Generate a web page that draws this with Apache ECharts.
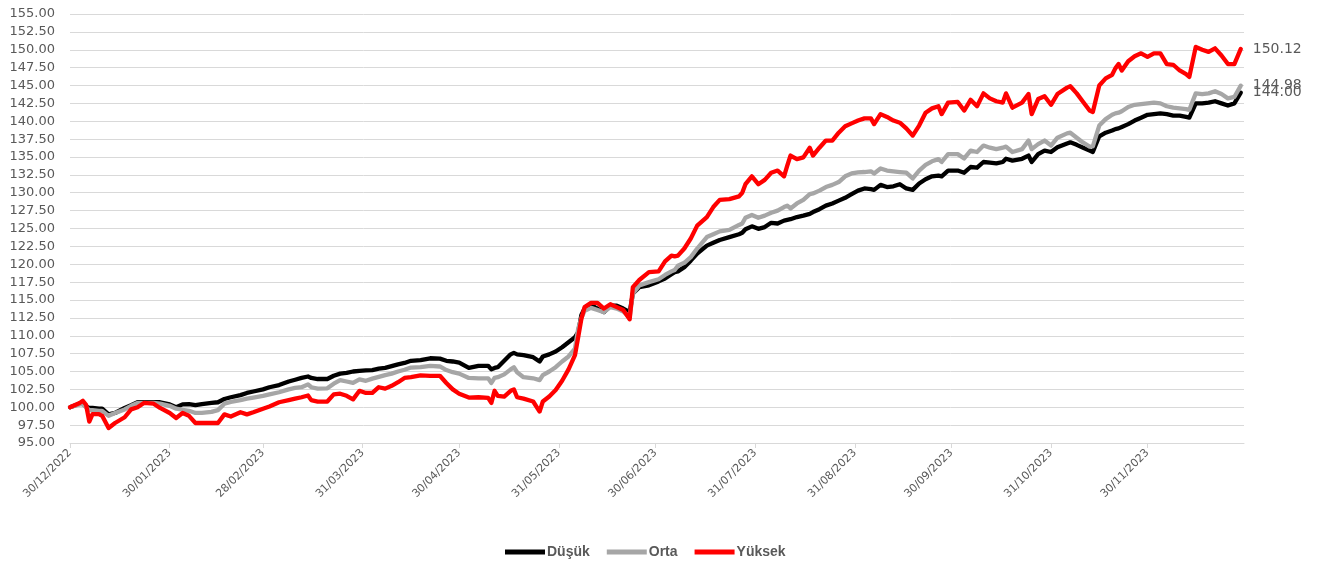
<!DOCTYPE html>
<html>
<head>
<meta charset="utf-8">
<script src="https://cdn.jsdelivr.net/npm/echarts@6/dist/echarts.min.js"></script>
<style>
html,body{margin:0;padding:0;background:#fff;}
#c{width:1332px;height:567px;}
</style>
</head>
<body>
<div id="c"></div>
<script>
const startDate = '2022-12-30';
const endDate = '2023-12-30';
const labelDates = ['2022-12-30','2023-01-30','2023-02-28','2023-03-31','2023-04-30','2023-05-31','2023-06-30','2023-07-31','2023-08-31','2023-09-30','2023-10-31','2023-11-30'];
const seriesNames = ['Düşük','Orta','Yüksek'];

const dates = [
'2022-12-30','2023-01-02','2023-01-03','2023-01-04','2023-01-05','2023-01-06','2023-01-08','2023-01-09','2023-01-11','2023-01-13','2023-01-16','2023-01-18','2023-01-20','2023-01-22','2023-01-25','2023-01-27','2023-01-30',
'2023-02-01','2023-02-03','2023-02-05','2023-02-07','2023-02-09','2023-02-12','2023-02-14','2023-02-16','2023-02-18','2023-02-21','2023-02-23','2023-02-25','2023-02-28',
'2023-03-02','2023-03-05','2023-03-08','2023-03-10','2023-03-12','2023-03-14','2023-03-15','2023-03-17','2023-03-20','2023-03-22','2023-03-24','2023-03-26','2023-03-28','2023-03-30',
'2023-04-01','2023-04-03','2023-04-05','2023-04-07','2023-04-09','2023-04-11','2023-04-13','2023-04-15','2023-04-18','2023-04-21','2023-04-24','2023-04-26','2023-04-28','2023-04-30',
'2023-05-03','2023-05-06','2023-05-09','2023-05-10','2023-05-11','2023-05-12','2023-05-14','2023-05-16','2023-05-17','2023-05-18','2023-05-20','2023-05-23','2023-05-25','2023-05-26','2023-05-28','2023-05-30',
'2023-06-01','2023-06-03','2023-06-05','2023-06-06','2023-06-07','2023-06-08','2023-06-10','2023-06-12','2023-06-14','2023-06-16','2023-06-18','2023-06-20','2023-06-22','2023-06-23','2023-06-25','2023-06-28',
'2023-07-01','2023-07-03','2023-07-05','2023-07-06','2023-07-07','2023-07-09','2023-07-11','2023-07-13','2023-07-16','2023-07-18','2023-07-20','2023-07-23','2023-07-26','2023-07-27','2023-07-28','2023-07-30',
'2023-08-01','2023-08-03','2023-08-05','2023-08-07','2023-08-09','2023-08-10','2023-08-11','2023-08-13','2023-08-15','2023-08-17','2023-08-18','2023-08-20','2023-08-22','2023-08-24','2023-08-26','2023-08-28','2023-08-30',
'2023-09-01','2023-09-03','2023-09-05','2023-09-06','2023-09-08','2023-09-10','2023-09-12','2023-09-14','2023-09-16','2023-09-18','2023-09-20','2023-09-22','2023-09-24','2023-09-26','2023-09-27','2023-09-29',
'2023-10-02','2023-10-04','2023-10-06','2023-10-08','2023-10-10','2023-10-12','2023-10-14','2023-10-16','2023-10-17','2023-10-19','2023-10-22','2023-10-24','2023-10-25','2023-10-27','2023-10-29','2023-10-31',
'2023-11-02','2023-11-05','2023-11-06','2023-11-08','2023-11-10','2023-11-12','2023-11-13','2023-11-15','2023-11-17','2023-11-19','2023-11-20','2023-11-21','2023-11-22','2023-11-24','2023-11-26','2023-11-28','2023-11-30',
'2023-12-02','2023-12-04','2023-12-06','2023-12-08','2023-12-10','2023-12-12','2023-12-13','2023-12-15','2023-12-17','2023-12-19','2023-12-21','2023-12-23','2023-12-25','2023-12-27','2023-12-29'
];

const dusuk = [
100.0,100.5,100.5,100.1,99.9,99.9,99.8,99.8,99.0,99.2,99.9,100.3,100.7,100.7,100.7,100.7,100.4,
100.0,100.4,100.45,100.3,100.45,100.6,100.7,101.15,101.4,101.7,102.0,102.2,102.5,
102.8,103.1,103.6,103.85,104.1,104.3,104.1,103.95,103.95,104.4,104.7,104.8,105.0,105.1,
105.15,105.2,105.4,105.5,105.75,106.0,106.2,106.5,106.6,106.85,106.8,106.5,106.4,106.25,
105.5,105.8,105.8,105.3,105.5,105.6,106.5,107.4,107.6,107.4,107.3,107.0,106.4,107.1,107.4,107.8,
108.4,109.1,109.8,110.5,112.9,113.8,114.3,113.8,113.3,114.2,114.2,113.8,113.3,115.9,116.8,117.05,
117.6,118.0,118.6,118.9,119.0,119.6,120.5,121.5,122.6,123.0,123.4,123.8,124.2,124.4,124.9,125.3,
124.95,125.2,125.8,125.7,126.1,126.2,126.3,126.6,126.8,127.05,127.3,127.7,128.2,128.5,128.9,129.3,129.8,
130.3,130.6,130.5,130.4,131.1,130.8,130.9,131.2,130.6,130.4,131.3,131.9,132.3,132.4,132.3,133.1,
133.1,132.8,133.6,133.5,134.3,134.2,134.1,134.3,134.75,134.5,134.75,135.2,134.3,135.4,135.9,135.7,
136.35,136.9,137.05,136.7,136.3,135.9,135.7,137.9,138.4,138.7,138.9,139.0,139.2,139.6,140.1,140.5,140.9,
141.0,141.1,141.0,140.8,140.8,140.6,140.5,142.5,142.5,142.6,142.8,142.5,142.2,142.5,144.00
];

const orta = [
100.0,100.4,100.4,100.0,99.6,99.6,99.5,99.5,98.8,99.2,99.7,100.2,100.6,100.6,100.6,100.5,100.2,
99.8,99.65,99.5,99.2,99.2,99.35,99.6,100.5,100.75,101.0,101.2,101.35,101.6,
101.8,102.1,102.5,102.7,102.8,103.2,102.8,102.6,102.65,103.3,103.8,103.6,103.4,103.9,
103.7,104.0,104.25,104.5,104.7,105.0,105.25,105.55,105.6,105.8,105.7,105.2,104.9,104.7,
104.1,104.05,104.05,103.4,104.1,104.2,104.6,105.3,105.6,104.9,104.2,104.05,103.8,104.5,105.0,105.6,
106.4,107.1,108.2,111.0,112.5,113.5,113.9,113.6,113.3,114.0,113.8,113.4,112.6,115.9,117.05,117.5,
117.9,118.5,119.0,119.2,119.8,120.2,121.0,122.2,123.8,124.2,124.6,124.8,125.5,125.7,126.5,126.9,
126.5,126.8,127.2,127.5,128.0,128.2,127.8,128.5,129.0,129.8,129.9,130.3,130.8,131.1,131.5,132.3,132.7,
132.85,132.9,133.0,132.7,133.4,133.1,133.0,132.9,132.8,132.0,133.1,133.9,134.4,134.7,134.3,135.4,
135.4,134.8,135.9,135.7,136.6,136.3,136.1,136.3,136.45,135.7,136.1,137.3,136.1,136.8,137.3,136.6,
137.7,138.3,138.4,137.7,137.0,136.45,136.5,139.4,140.3,140.9,141.1,141.2,141.4,142.0,142.3,142.4,142.5,
142.6,142.5,142.1,141.9,141.8,141.7,141.6,143.9,143.8,143.9,144.2,143.8,143.2,143.4,144.98
];

const yuksek = [
100.0,100.6,100.9,100.35,98.0,99.05,99.05,98.8,97.1,97.8,98.6,99.7,100.0,100.6,100.5,99.9,99.2,
98.5,99.2,98.8,97.8,97.8,97.8,97.8,99.0,98.7,99.3,99.0,99.3,99.8,
100.1,100.7,101.0,101.2,101.4,101.65,101.0,100.8,100.8,101.8,101.9,101.6,101.1,102.3,
102.0,102.0,102.8,102.6,103.0,103.5,104.1,104.2,104.45,104.4,104.4,103.4,102.5,101.9,
101.35,101.4,101.3,100.6,102.3,101.6,101.5,102.3,102.5,101.4,101.2,100.8,99.4,100.8,101.5,102.4,
103.7,105.3,107.3,109.8,112.4,114.0,114.6,114.6,113.8,114.4,114.0,113.6,112.3,116.8,117.8,118.9,
119.0,120.4,121.2,121.1,121.2,122.2,123.6,125.4,126.6,128.0,129.0,129.1,129.5,130.0,131.2,132.3,
131.2,131.8,132.8,133.1,132.3,133.8,135.2,134.7,134.95,136.3,135.2,136.3,137.3,137.3,138.4,139.3,139.7,
140.1,140.4,140.4,139.6,141.0,140.6,140.1,139.8,139.0,138.0,139.4,141.2,141.8,142.1,141.0,142.6,
142.7,141.5,143.0,142.1,143.9,143.2,142.8,142.6,143.9,141.9,142.6,143.8,141.0,143.1,143.5,142.3,
143.8,144.7,144.9,143.9,142.7,141.5,141.3,145.0,146.0,146.5,147.4,148.0,147.1,148.4,149.1,149.5,149.0,
149.5,149.5,148.0,147.9,147.1,146.6,146.2,150.4,150.0,149.7,150.2,149.2,148.0,148.0,150.12
];

// build the daily category axis
const categories = [];
{
  let t = Date.parse(startDate + 'T00:00:00Z');
  const tEnd = Date.parse(endDate + 'T00:00:00Z');
  while (t <= tEnd) {
    categories.push(new Date(t).toISOString().slice(0, 10));
    t += 86400000;
  }
}
const idx = {};
categories.forEach((d, i) => { idx[d] = i; });
function toSeries(vals) {
  let last = 0;
  dates.forEach(d => { if (idx[d] > last) last = idx[d]; });
  const arr = new Array(last + 1).fill(null);
  dates.forEach((d, i) => { arr[idx[d]] = vals[i]; });
  return arr;
}
const labelSet = new Set(labelDates);
const showAt = (i, v) => labelSet.has(v);
const FONT = 'DejaVu Sans';
const colors = ['#000000', '#A6A6A6', '#FF0000'];
const values = [dusuk, orta, yuksek];

const chart = echarts.init(document.getElementById('c'), null, { renderer: 'canvas' });
chart.setOption({
  animation: false,
  backgroundColor: '#ffffff',
  grid: { left: 70, right: 88, top: 14, bottom: 124, containLabel: false },
  legend: {
    bottom: 3,
    left: 500,
    icon: 'rect',
    itemWidth: 40,
    itemHeight: 5,
    itemGap: 17,
    data: seriesNames,
    textStyle: { fontFamily: 'Liberation Sans', fontSize: 14, fontWeight: 'bold', color: '#595959', padding: [0, 0, 0, -3] }
  },
  xAxis: {
    type: 'category',
    data: categories,
    boundaryGap: false,
    axisLine: { show: true, lineStyle: { color: '#D9D9D9', width: 1 } },
    axisTick: { show: true, interval: showAt, length: 5, lineStyle: { color: '#D9D9D9' } },
    axisLabel: {
      interval: showAt,
      rotate: 45,
      margin: 8,
      fontFamily: FONT,
      fontSize: 11,
      color: '#595959',
      formatter: v => v.slice(8, 10) + '/' + v.slice(5, 7) + '/' + v.slice(0, 4)
    },
    splitLine: { show: false }
  },
  yAxis: {
    type: 'value',
    min: 95,
    max: 155,
    interval: 2.5,
    axisLine: { show: false },
    axisTick: { show: false },
    axisLabel: { fontFamily: FONT, fontSize: 13, color: '#595959', margin: 15, formatter: v => v.toFixed(2) },
    splitLine: { show: true, lineStyle: { color: '#D9D9D9', width: 1 } }
  },
  series: seriesNames.map((name, k) => ({
    name: name,
    type: 'line',
    data: toSeries(values[k]),
    connectNulls: true,
    showSymbol: false,
    symbol: 'none',
    smooth: false,
    color: colors[k],
    lineStyle: { color: colors[k], width: 4.3, join: 'round', cap: 'round' },
    endLabel: {
      show: true,
      distance: 12,
      fontFamily: FONT,
      fontSize: 14,
      color: '#595959',
      formatter: p => Number(p.value).toFixed(2)
    },
    emphasis: { disabled: true }
  }))
});
</script>
</body>
</html>
